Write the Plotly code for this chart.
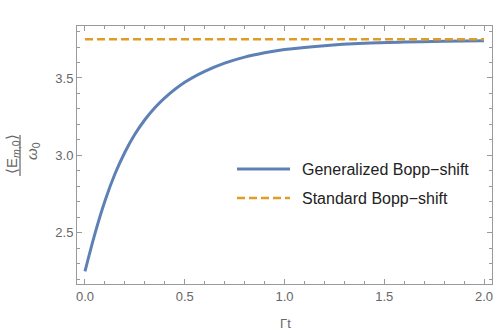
import plotly.graph_objects as go

# Data
gamma_t = [0.0, 0.05, 0.1, 0.15, 0.2, 0.25, 0.3, 0.35, 0.4, 0.5, 0.6, 0.7,
           0.8, 0.9, 1.0, 1.2, 1.4, 1.6, 1.8, 2.0]
generalized = [2.25, 2.494, 2.705, 2.879, 3.020, 3.136, 3.230, 3.308, 3.372,
               3.472, 3.543, 3.596, 3.635, 3.663, 3.684, 3.709, 3.724, 3.732,
               3.737, 3.741]
standard_x = [0.0, 2.0]
standard = [3.75, 3.75]
x_ticks = [0.0, 0.5, 1.0, 1.5, 2.0]
x_tick_labels = ["0.0", "0.5", "1.0", "1.5", "2.0"]
y_ticks = [2.5, 3.0, 3.5]
y_tick_labels = ["2.5", "3.0", "3.5"]
legend_names = ["Generalized Bopp\u2212shift", "Standard Bopp\u2212shift"]

BLUE = "#5E81B5"
ORANGE = "#E19C24"
FRAME = "#9a9a9a"
LABEL = "#666666"
FONT = "Liberation Sans"

W, H = 500, 334
L, R, T, B = 77, 8, 26, 50
PW, PH = W - L - R, H - T - B


def px(x):
    return (x - L) / PW


def py(y):
    return (H - B - y) / PH


fig = go.Figure()
fig.add_trace(go.Scatter(x=gamma_t, y=generalized, mode="lines",
                         line=dict(color=BLUE, width=3, shape="spline", smoothing=1),
                         name=legend_names[0], showlegend=False))
fig.add_trace(go.Scatter(x=standard_x, y=standard, mode="lines",
                         line=dict(color=ORANGE, width=2.5, dash="8px,4px"),
                         name=legend_names[1], showlegend=False))

axis_common = dict(showline=True, mirror="ticks", linecolor=FRAME, linewidth=1,
                   ticks="inside", ticklen=5, tickcolor=FRAME, tickwidth=1,
                   showgrid=False, zeroline=False,
                   tickfont=dict(family=FONT, size=13, color=LABEL))

fig.update_xaxes(range=[-0.04, 2.04], tickvals=x_ticks, ticktext=x_tick_labels,
                 minor=dict(dtick=0.1, tick0=0, ticks="inside", ticklen=3,
                            tickcolor=FRAME, showgrid=False),
                 **axis_common)
fig.update_yaxes(range=[2.168, 3.836], tickvals=y_ticks, ticktext=y_tick_labels,
                 minor=dict(dtick=0.1, tick0=0, ticks="inside", ticklen=3,
                            tickcolor=FRAME, showgrid=False),
                 **axis_common)

annotations = [
    dict(text="\u0393t", x=px(285), y=py(323), xref="paper", yref="paper",
         showarrow=False, font=dict(family=FONT, size=13, color=LABEL),
         xanchor="center", yanchor="middle"),
    dict(text="\u27e8E<sub><i>m</i>,0</sub>\u27e9", x=px(12), y=py(154),
         xref="paper", yref="paper", showarrow=False, textangle=-90,
         font=dict(family=FONT, size=15, color=LABEL),
         xanchor="center", yanchor="middle"),
    dict(text="<i>\u03c9</i><sub>0</sub>", x=px(32), y=py(151),
         xref="paper", yref="paper", showarrow=False, textangle=-90,
         font=dict(family=FONT, size=15, color=LABEL),
         xanchor="center", yanchor="middle"),
    dict(text=legend_names[0], x=px(300), y=py(169), xref="paper", yref="paper",
         showarrow=False, font=dict(family=FONT, size=16, color="#222222"),
         xanchor="left", yanchor="middle"),
    dict(text=legend_names[1], x=px(300), y=py(198), xref="paper", yref="paper",
         showarrow=False, font=dict(family=FONT, size=16, color="#222222"),
         xanchor="left", yanchor="middle"),
]

shapes = [
    dict(type="line", xref="paper", yref="paper", x0=px(20), x1=px(20),
         y0=py(135), y1=py(176), line=dict(color=LABEL, width=1.2)),
    dict(type="line", xref="paper", yref="paper", x0=px(237), x1=px(290),
         y0=py(169), y1=py(169), line=dict(color=BLUE, width=3)),
    dict(type="line", xref="paper", yref="paper", x0=px(237), x1=px(290),
         y0=py(198), y1=py(198), line=dict(color=ORANGE, width=2.5, dash="8px,4px")),
]

fig.update_layout(width=W, height=H, margin=dict(l=L, r=R, t=T, b=B),
                  paper_bgcolor="white", plot_bgcolor="white",
                  annotations=annotations, shapes=shapes, showlegend=False)

fig.write_html("out.html", config={"displayModeBar": False})

# remove the default page margin so the figure sits at the window's corner
with open("out.html", "r", encoding="utf-8") as f:
    html = f.read()
html = html.replace("<head>", "<head><style>html,body{margin:0;padding:0;overflow:hidden;}</style>", 1)
with open("out.html", "w", encoding="utf-8") as f:
    f.write(html)
